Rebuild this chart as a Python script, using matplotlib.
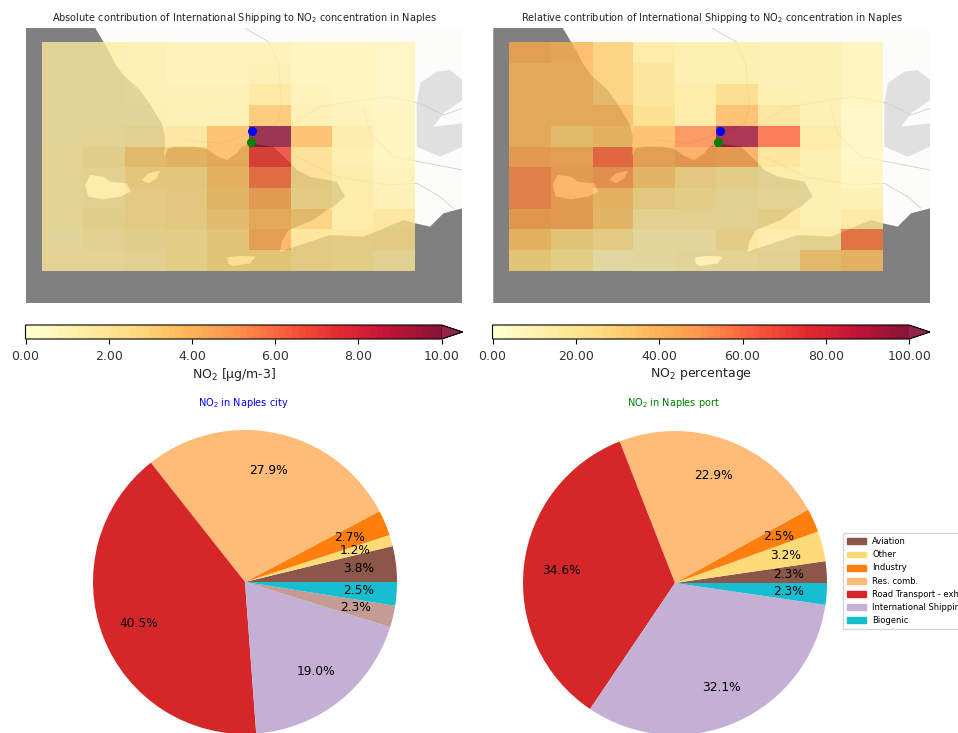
import numpy as np
import matplotlib
matplotlib.use('Agg')
import matplotlib.pyplot as plt
from matplotlib.patches import Patch, Polygon
from matplotlib.colors import Normalize

# grid edges and map extent, in map units
x_edges = [65, 190, 315, 437, 562, 686, 812, 936, 1060, 1185]
y_edges = [127, 190, 253, 316, 377, 440, 500, 563, 626, 688, 750, 812]
map_xlim = (17, 1327)
map_ylim = (910, 83)

absolute = [
    [1.3, 1.3, 1.2, 1.0, 1.0, 1.0, 0.9, 0.8, 0.7],
    [1.3, 1.3, 1.2, 1.0, 1.0, 1.1, 0.9, 0.8, 0.7],
    [1.3, 1.3, 1.2, 1.1, 1.1, 1.8, 1.0, 0.9, 0.7],
    [1.3, 1.4, 1.4, 1.2, 1.2, 3.3, 1.2, 1.0, 0.8],
    [1.4, 1.5, 1.7, 2.0, 3.7, 10.5, 3.6, 1.5, 0.9],
    [1.5, 1.8, 3.0, 3.3, 3.6, 7.0, 2.2, 1.4, 0.9],
    [1.5, 1.7, 2.4, 2.4, 3.3, 5.7, 2.2, 1.6, 1.0],
    [1.5, 1.7, 2.1, 2.3, 3.2, 4.3, 2.1, 1.6, 1.1],
    [1.5, 1.8, 2.1, 2.2, 2.9, 3.7, 3.0, 1.7, 1.9],
    [1.4, 1.6, 1.8, 2.0, 2.6, 4.2, 2.1, 1.9, 2.1],
    [1.5, 1.5, 1.7, 2.0, 2.6, 2.6, 2.1, 1.9, 1.7],
]
relative = [
    [42, 38, 30, 16, 13, 13, 12, 11, 8],
    [37, 37, 30, 21, 14, 14, 12, 11, 8],
    [37, 37, 30, 21, 16, 26, 14, 11, 8],
    [37, 37, 36, 24, 17, 37, 20, 12, 6],
    [37, 31, 33, 36, 53, 95, 60, 17, 7],
    [43, 42, 58, 42, 45, 43, 21, 13, 6],
    [53, 43, 47, 32, 23, 19, 17, 13, 9],
    [53, 43, 33, 22, 19, 16, 15, 13, 11],
    [45, 43, 32, 17, 16, 16, 19, 14, 18],
    [33, 25, 21, 12, 12, 19, 15, 17, 55],
    [25, 20, 10, 11, 13, 15, 16, 30, 34],
]

# stations
city_xy = (697, 393)
port_xy = (692, 425)

# coast outlines
sea = [(17, 83), (225, 83), (250, 125), (265, 150), (285, 190), (310, 225), (360, 270), (395, 320),
       (425, 370), (436, 410), (432, 470), (445, 445), (470, 440), (520, 440), (560, 447), (590, 468),
       (620, 480), (650, 460), (665, 440), (690, 430), (760, 440), (812, 490), (830, 510), (870, 530),
       (950, 545), (975, 590), (940, 620), (920, 630), (880, 660), (830, 680), (805, 690), (785, 725),
       (780, 755), (810, 745), (870, 725), (930, 705), (1030, 710), (1080, 690), (1150, 660), (1185, 670),
       (1230, 680), (1270, 640), (1327, 625), (1327, 910), (17, 910)]
ischia = [(195, 555), (210, 525), (250, 530), (270, 545), (320, 550), (332, 575), (300, 590), (250, 598), (205, 590)]
procida = [(365, 540), (385, 520), (420, 512), (410, 535), (385, 550)]
capri = [(622, 772), (660, 768), (706, 770), (690, 790), (640, 798), (625, 792)]
urban_patches = [
    [(1190, 310), (1200, 250), (1250, 215), (1290, 210), (1327, 240), (1327, 300), (1270, 340), (1240, 380),
     (1327, 370), (1327, 440), (1260, 470), (1190, 440)],
]
roads = [
    [(675, 85), (745, 125), (775, 190), (785, 320), (770, 370), (700, 400), (600, 430), (500, 420)],
    [(810, 375), (900, 320), (1030, 300), (1100, 290), (1200, 310), (1270, 345), (1327, 325)],
    [(1030, 320), (1050, 400), (1120, 470), (1327, 510)],
    [(830, 470), (950, 530), (1100, 555), (1190, 550), (1260, 590), (1300, 625)],
]

# pies
sectors = ['Aviation', 'Other', 'Industry', 'Res. comb.', 'Road Transport - exhaust',
           'International Shipping', 'Biogenic']
city_values = [3.8, 1.2, 2.7, 27.9, 40.5, 19.0, 2.3, 2.5]
port_values = [2.3, 3.2, 2.5, 22.9, 34.6, 32.1, 2.3]
city_colors = ['#8c564b', '#ffdb78', '#ff7f0e', '#ffbb78', '#d62728', '#c5b0d5', '#c49c94', '#17becf']
port_colors = ['#8c564b', '#ffdb78', '#ff7f0e', '#ffbb78', '#d62728', '#c5b0d5', '#17becf']
legend_colors = port_colors

W, H = 958, 733
fig = plt.figure(figsize=(W / 100, H / 100), dpi=100)
cmap = plt.get_cmap('YlOrRd').resampled(64)


def px_axes(left, top, right, bottom):
    return fig.add_axes([left / W, 1 - bottom / H, (right - left) / W, (bottom - top) / H])


def draw_map(ax, values, vmax, title):
    ax.set_facecolor('#fcfcfb')
    for shape in urban_patches:
        ax.add_patch(Polygon(shape, closed=True, fc='#e0e0e0', ec='none', zorder=1))
    for road in roads:
        xs, ys = zip(*road)
        ax.plot(xs, ys, color='#cfcfcf', lw=0.6, zorder=1)
    ax.add_patch(Polygon(sea, closed=True, fc='#808080', ec='none', zorder=2))
    for island in [ischia, procida, capri]:
        ax.add_patch(Polygon(island, closed=True, fc='#fcfcfb', ec='none', zorder=3))
    mesh = ax.pcolormesh(x_edges, y_edges, np.array(values), cmap=cmap, norm=Normalize(0, vmax),
                         alpha=0.78, edgecolors='none', zorder=4)
    ax.plot(*city_xy, 'o', color='blue', ms=5.5, zorder=5)
    ax.plot(*port_xy, 'o', color='green', ms=5.5, zorder=5)
    ax.set_xlim(map_xlim)
    ax.set_ylim(map_ylim)
    ax.set_xticks([])
    ax.set_yticks([])
    for s in ax.spines.values():
        s.set_visible(False)
    ax.set_title(title, fontsize=7.0, pad=5, color='#222222')
    return mesh


def draw_cbar(mesh, left, right, ticks, label):
    cax = px_axes(left, 325, right, 339)
    cb = fig.colorbar(mesh, cax=cax, orientation='horizontal', extend='max', ticks=ticks, format='%.2f')
    # bar is a bit less see-through than the grid cells
    cb.solids.set_alpha(0.92)
    for p in cb.ax.patches:
        p.set_alpha(0.85)
    cb.ax.tick_params(labelsize=9.0, length=3.5, width=0.8, pad=4.5, labelcolor='#333333')
    cb.set_label(label, fontsize=9.0, labelpad=2, color='#222222')


def draw_pie(ax, values, colors, title, color):
    ax.pie(values, colors=colors, autopct='%1.1f%%', pctdistance=0.75, startangle=0,
           textprops={'fontsize': 8.8})
    ax.set_xlim(-1.25, 1.25)
    ax.set_ylim(-1.25, 1.25)
    fig.text((ax.get_position().x0 + ax.get_position().x1) / 2 - 2 / W, 1 - 403 / H, title,
             color=color, fontsize=7.0, ha='center', va='center')


ax1 = px_axes(25.7, 27.7, 462.4, 303.3)
ax2 = px_axes(493.3, 27.7, 930, 303.3)
mesh1 = draw_map(ax1, absolute, 10,
                 'Absolute contribution of International Shipping to NO$_2$ concentration in Naples')
mesh2 = draw_map(ax2, relative, 100,
                 'Relative contribution of International Shipping to NO$_2$ concentration in Naples')
draw_cbar(mesh1, 25.5, 462.5, [0, 2, 4, 6, 8, 10], 'NO$_2$ [µg/m-3]')
draw_cbar(mesh2, 492.5, 930, [0, 20, 40, 60, 80, 100], 'NO$_2$ percentage')

pie1 = px_axes(245 - 190, 582 - 190, 245 + 190, 582 + 190)
pie2 = px_axes(675 - 190, 583 - 190, 675 + 190, 583 + 190)
draw_pie(pie1, city_values, city_colors, 'NO$_2$ in Naples city', 'blue')
draw_pie(pie2, port_values, port_colors, 'NO$_2$ in Naples port', 'green')

handles = [Patch(color=c, label=s) for c, s in zip(legend_colors, sectors)]
fig.legend(handles=handles, loc='upper left', bbox_to_anchor=(843 / W, 1 - 533 / H), fontsize=6.0,
           borderaxespad=0, borderpad=0.5, labelspacing=0.5, handlelength=2.2, framealpha=0.8)

fig.savefig('out.png', dpi=100)
